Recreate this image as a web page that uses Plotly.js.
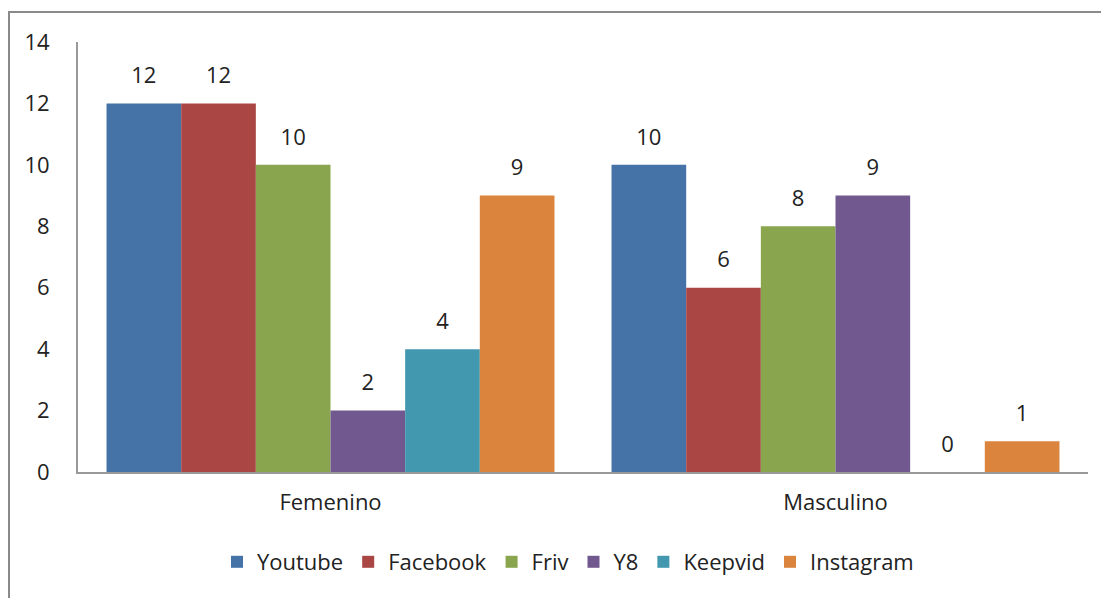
<!DOCTYPE html>
<html>
<head>
<meta charset="utf-8">
<script src="https://cdn.plot.ly/plotly-3.0.1.min.js"></script>
<style>
html,body{margin:0;padding:0;background:#fff;}
#chart{width:1101px;height:598px;}
</style>
</head>
<body>
<div id="chart"></div>
<script>
const categories = ["Femenino", "Masculino"];
const seriesNames = ["Youtube", "Facebook", "Friv", "Y8", "Keepvid", "Instagram"];
const youtube   = [12, 10];
const facebook  = [12, 6];
const friv      = [10, 8];
const y8        = [2, 9];
const keepvid   = [4, 0];
const instagram = [9, 1];
const yTicks = [0, 2, 4, 6, 8, 10, 12, 14];
const colors = ["#4572A7", "#AA4643", "#89A54E", "#71588F", "#4198AF", "#DB843D"];

const seriesValues = [youtube, facebook, friv, y8, keepvid, instagram];
const FONT = "'Open Sans', sans-serif";
const GAP = 0.113;

const traces = [];
seriesValues.forEach((vals, i) => {
  traces.push({
    type: "bar", name: seriesNames[i], x: categories, y: vals,
    marker: {color: colors[i]},
    hoverinfo: "none", legendgroup: "g" + i
  });
});
seriesValues.forEach((vals, i) => {
  traces.push({
    type: "scatter", mode: "markers+text", x: categories, y: vals,
    text: vals.map(String), textposition: "top center",
    textfont: {family: FONT, size: 22, color: "#222"},
    marker: {size: 22, color: "rgba(0,0,0,0)"},
    showlegend: false, hoverinfo: "none", cliponaxis: false
  });
});

const L = 78, R = 13, T = 42, B = 126, W = 1101, H = 598;
const pw = W - L - R, ph = H - T - B;
const layout = {
  width: W, height: H,
  margin: {l: L, r: R, t: T, b: B, pad: 0},
  paper_bgcolor: "#fff", plot_bgcolor: "#fff",
  barmode: "group", bargap: GAP, bargroupgap: 0,
  scattermode: "group", scattergap: GAP,
  font: {family: FONT, size: 22, color: "#222"},
  showlegend: true,
  legend: {
    orientation: "h", x: (568 - L) / pw, xanchor: "center",
    y: (T + ph - 562) / ph, yanchor: "middle",
    font: {family: FONT, size: 22, color: "#222"},
    itemwidth: 30, traceorder: "normal"
  },
  xaxis: {
    type: "category", showline: true, linecolor: "#999", linewidth: 2,
    ticks: "", showgrid: false, zeroline: false,
    tickfont: {family: FONT, size: 22, color: "#222"},
    ticklabelstandoff: 10
  },
  yaxis: {
    range: [0, 14], tickvals: yTicks, showline: true, linecolor: "#999", linewidth: 2,
    ticks: "", showgrid: false, zeroline: false,
    tickfont: {family: FONT, size: 22, color: "#222"},
    ticklabelstandoff: 22
  },
  shapes: [{
    type: "rect", xref: "paper", yref: "paper",
    x0: (9 - L) / pw, x1: 1.2, y0: -0.5, y1: (T + ph - 12) / ph,
    line: {color: "#8a8a8a", width: 2}, fillcolor: "rgba(0,0,0,0)", layer: "below"
  }]
};

Plotly.newPlot("chart", traces, layout, {displayModeBar: false, staticPlot: true});
</script>
</body>
</html>
